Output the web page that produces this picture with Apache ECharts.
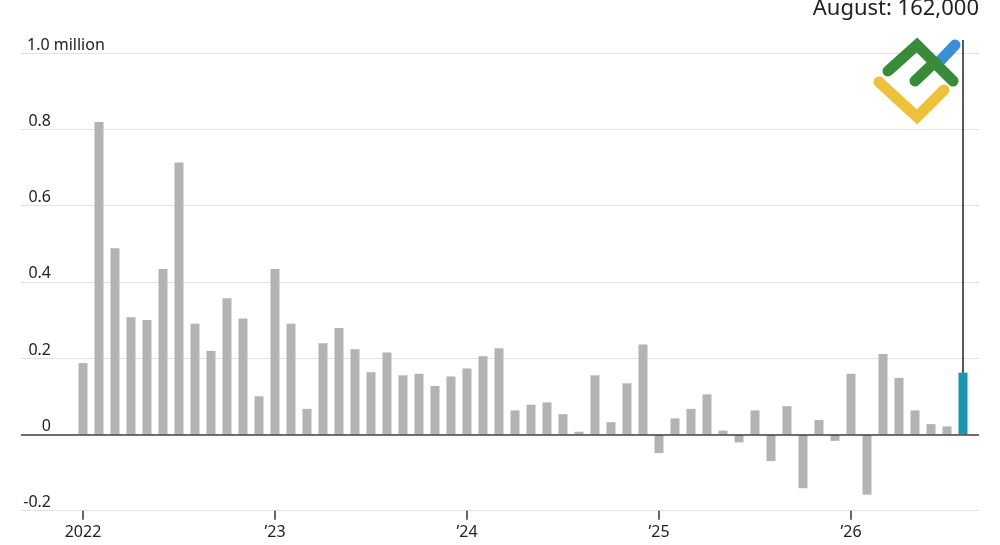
<!DOCTYPE html>
<html>
<head>
<meta charset="utf-8">
<script src="https://cdn.jsdelivr.net/npm/echarts@6/dist/echarts.min.js"></script>
<style>
html,body{margin:0;padding:0;background:#fff;}
#chart{width:1000px;height:545px;}
</style>
</head>
<body>
<div id="chart"></div>
<script>
// Monthly change, millions (Jan 2022 – Aug 2026)
const months2022 = [0.187, 0.819, 0.488, 0.307, 0.300, 0.434, 0.713, 0.290, 0.219, 0.357, 0.304, 0.100];
const months2023 = [0.434, 0.290, 0.067, 0.239, 0.279, 0.223, 0.163, 0.215, 0.155, 0.159, 0.127, 0.152];
const months2024 = [0.173, 0.205, 0.226, 0.063, 0.078, 0.084, 0.053, 0.007, 0.155, 0.032, 0.134, 0.236];
const months2025 = [-0.049, 0.042, 0.067, 0.105, 0.010, -0.021, 0.063, -0.070, 0.074, -0.141, 0.038, -0.017];
const months2026 = [0.159, -0.158, 0.211, 0.148, 0.063, 0.027, 0.021, 0.162];
const values = [].concat(months2022, months2023, months2024, months2025, months2026);
const yearLabels = ['2022', '\u201923', '\u201924', '\u201925', '\u201926'];
const yearTickIndex = [0, 12, 24, 36, 48];
const latestLabel = 'August';
const latestValue = 162000;
const annotationTop = 1.034;

const FONT = 'Noto Sans';
const lastIdx = values.length - 1;

const barData = values.map((v, i) => ({
  value: [i, v],
  itemStyle: { color: i === lastIdx ? '#1b95b2' : '#b3b3b3' }
}));

const chart = echarts.init(document.getElementById('chart'), null, { renderer: 'canvas' });
chart.setOption({
  animation: false,
  backgroundColor: '#ffffff',
  grid: { left: 21, right: 21, top: 53, bottom: 34.3, containLabel: false },
  xAxis: {
    type: 'value',
    min: -3.875,
    max: 56,
    axisLine: { show: false, onZero: false },
    splitLine: { show: false },
    axisTick: {
      show: true,
      customValues: yearTickIndex,
      length: 9,
      lineStyle: { color: '#333', width: 1.5 }
    },
    axisLabel: {
      show: true,
      customValues: yearTickIndex,
      formatter: v => yearLabels[yearTickIndex.indexOf(Math.round(v))] || '',
      fontFamily: FONT,
      fontSize: 16,
      color: '#222',
      margin: 14
    }
  },
  yAxis: {
    type: 'value',
    min: -0.2,
    max: 1.0,
    interval: 0.2,
    axisLine: { show: false },
    axisTick: { show: false },
    splitLine: { show: true, lineStyle: { color: '#e2e2e2', width: 1 } },
    axisLabel: {
      inside: true,
      margin: 30,
      align: 'right',
      verticalAlign: 'bottom',
      fontFamily: FONT,
      fontSize: 16,
      color: '#222',
      formatter: v => {
        const r = Math.round(v * 10) / 10;
        if (r === 0) return '0';
        if (r === 1) return '{m|1.0 million}';
        return r.toFixed(1);
      },
      rich: {
        m: { width: 24, align: 'left', fontFamily: FONT, fontSize: 16, color: '#222', overflow: 'none' }
      }
    }
  },
  series: [
    {
      type: 'bar',
      barWidth: 9,
      data: barData,
      z: 2,
      markLine: {
        silent: true,
        symbol: ['none', 'none'],
        label: { show: false },
        lineStyle: { color: '#444', width: 1.6, type: 'solid' },
        data: [{ yAxis: 0 }],
        z: 5
      }
    },
    {
      type: 'line',
      clip: false,
      silent: true,
      symbol: 'circle',
      symbolSize: 0,
      showSymbol: true,
      lineStyle: { color: '#222', width: 1.5 },
      z: 4,
      data: [
        { value: [lastIdx, values[lastIdx]] },
        {
          value: [lastIdx, annotationTop],
          label: {
            show: true,
            position: 'top',
            distance: 0,
            align: 'right',
            offset: [16, -20],
            fontFamily: FONT,
            fontSize: 22,
            color: '#222',
            formatter: () => latestLabel + ': ' + latestValue.toLocaleString('en-US')
          }
        }
      ]
    }
  ],
  graphic: [
    { type: 'polyline', silent: true, z: 10,
      shape: { points: [[938, 63], [955, 45]] },
      style: { stroke: '#3b8fd6', lineWidth: 11, lineCap: 'round', fill: null } },
    { type: 'polyline', silent: true, z: 11,
      shape: { points: [[888, 71], [917, 45], [953, 81]] },
      style: { stroke: '#378b39', lineWidth: 11, lineCap: 'round', lineJoin: 'miter', fill: null } },
    { type: 'polyline', silent: true, z: 11,
      shape: { points: [[915, 81], [935, 62]] },
      style: { stroke: '#378b39', lineWidth: 11, lineCap: 'round', fill: null } },
    { type: 'polyline', silent: true, z: 11,
      shape: { points: [[879, 82], [917, 117], [944, 90]] },
      style: { stroke: '#eec13b', lineWidth: 11, lineCap: 'round', lineJoin: 'miter', fill: null } }
  ]
});
</script>
</body>
</html>
